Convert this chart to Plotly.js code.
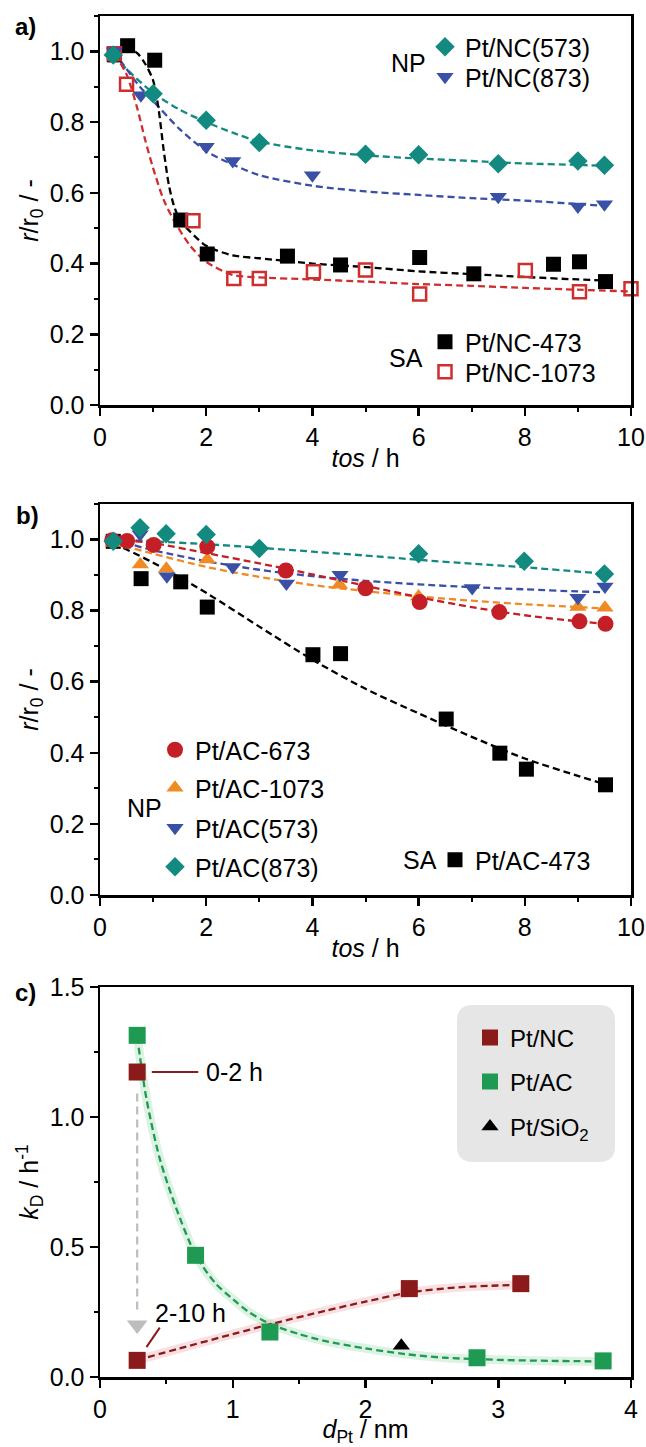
<!DOCTYPE html>
<html><head><meta charset="utf-8">
<script src="https://cdn.plot.ly/plotly-3.0.1.min.js"></script>
<style>body{margin:0;background:#fff}#chart{width:646px;height:1447px}</style>
</head><body><div id="chart"></div>
<script>
// ---------- Panel a data (tos / h, r/r0) ----------
const a_tos_NC573 = [0.25,1,2,3,5,6,7.5,9,9.5];
const a_r_NC573   = [0.99,0.88,0.805,0.742,0.709,0.708,0.682,0.69,0.678];
const a_tos_NC873 = [0.27,0.77,2,2.5,4,7.5,9,9.5];
const a_r_NC873   = [1.0,0.876,0.73,0.69,0.65,0.589,0.561,0.568];
const a_tos_NC473 = [0.27,0.52,1.03,1.52,2.02,3.53,4.53,6.02,7.04,8.54,9.03,9.52];
const a_r_NC473   = [0.99,1.016,0.975,0.523,0.427,0.421,0.396,0.417,0.371,0.398,0.405,0.349];
const a_tos_NC1073= [0.27,0.5,1.75,2.52,3.0,4.02,5.0,6.02,8.01,9.03,10.0];
const a_r_NC1073  = [0.993,0.907,0.521,0.358,0.358,0.377,0.382,0.314,0.38,0.32,0.329];
// fitted curves
const a_fit_NC573_x = [0.25,0.5,1,1.5,2,2.5,3,4,5,6,7,8,9,9.5];
const a_fit_NC573_y = [0.99,0.95,0.883,0.835,0.8,0.77,0.745,0.72,0.706,0.697,0.69,0.683,0.679,0.676];
const a_fit_NC873_x = [0.25,0.5,0.75,1,1.5,2,2.5,3,4,5,6,7,8,9,9.5];
const a_fit_NC873_y = [1.0,0.95,0.9,0.86,0.78,0.718,0.68,0.65,0.62,0.604,0.594,0.585,0.578,0.568,0.563];
const a_fit_NC473_x = [0.27,0.5,0.7,0.85,1.0,1.1,1.2,1.3,1.4,1.52,1.7,2.0,2.5,3,4,5,6,7,8,9,9.5];
const a_fit_NC473_y = [1.0,1.01,0.995,0.965,0.918,0.84,0.72,0.62,0.56,0.52,0.49,0.45,0.423,0.415,0.4,0.39,0.378,0.37,0.362,0.355,0.352];
const a_fit_NC1073_x = [0.27,0.5,0.7,0.85,1.0,1.2,1.4,1.7,2.0,2.5,3,4,5,6,7,8,9,10];
const a_fit_NC1073_y = [0.993,0.935,0.84,0.75,0.67,0.58,0.52,0.45,0.405,0.368,0.361,0.355,0.349,0.342,0.337,0.331,0.326,0.321];

// ---------- Panel b data ----------
const b_tos_AC673  = [0.23,0.51,1.01,2.02,3.5,5.0,6.02,7.52,9.03,9.52];
const b_r_AC673    = [0.998,0.996,0.985,0.98,0.913,0.863,0.824,0.796,0.77,0.763];
const b_tos_AC1073 = [0.25,0.76,1.25,2.02,4.51,6.0,9.0,9.51];
const b_r_AC1073   = [0.99,0.93,0.918,0.944,0.873,0.84,0.81,0.808];
const b_tos_AC573  = [0.25,0.755,1.26,2.5,3.51,4.52,7.01,9.0,9.51];
const b_r_AC573    = [1.0,1.015,0.897,0.923,0.876,0.901,0.864,0.836,0.868];
const b_tos_AC873  = [0.25,0.755,1.245,2.0,3.0,6.0,7.99,9.5];
const b_r_AC873    = [0.995,1.033,1.016,1.014,0.975,0.96,0.939,0.903];
const b_tos_AC473  = [0.25,0.774,1.52,2.02,4.01,4.53,6.52,7.53,8.03,9.52];
const b_r_AC473    = [0.995,0.89,0.881,0.81,0.676,0.679,0.495,0.399,0.354,0.31];
const b_fit_x      = [0.25,1,2,3,4,5,6,7,8,9,9.5];
const b_fit_AC873  = [1.0,0.995,0.987,0.977,0.966,0.955,0.943,0.932,0.922,0.91,0.904];
const b_fit_AC573  = [1.0,0.97,0.939,0.915,0.897,0.884,0.874,0.866,0.86,0.854,0.852];
const b_fit_AC1073 = [0.99,0.96,0.923,0.895,0.872,0.855,0.84,0.828,0.818,0.81,0.806];
const b_fit_AC673  = [1.0,0.99,0.962,0.933,0.902,0.87,0.838,0.81,0.787,0.77,0.763];
const b_fit_AC473  = [0.99,0.935,0.85,0.755,0.662,0.58,0.511,0.445,0.384,0.335,0.312];

// ---------- Panel c data (d_Pt / nm, k_D / h^-1) ----------
const c_d_NC  = [0.28,0.28,2.33,3.17];
const c_k_NC  = [1.173,0.064,0.34,0.359];
const c_d_AC  = [0.28,0.72,1.28,2.84,3.79];
const c_k_AC  = [1.314,0.468,0.173,0.074,0.062];
const c_d_SiO2 = [2.27];
const c_k_SiO2 = [0.12];
const c_fit_AC_x = [0.28,0.35,0.45,0.57,0.72,0.87,1.0,1.12,1.3,1.5,1.7,2.0,2.3,2.6,3.0,3.4,3.79];
const c_fit_AC_y = [1.31,1.07,0.84,0.655,0.47,0.36,0.3,0.25,0.2,0.165,0.138,0.11,0.088,0.074,0.066,0.062,0.06];
const c_fit_NC_x = [0.28,0.6,1.0,1.3,1.7,2.0,2.33,2.7,3.0,3.17];
const c_fit_NC_y = [0.065,0.11,0.165,0.205,0.255,0.29,0.325,0.345,0.352,0.355];
// grey arrow (0-2 h -> 2-10 h)
const c_arrow_x = [0.28,0.28];
const c_arrow_y = [1.09,0.24];
const c_arrowhead_y = [0.2];

const FONT = 'Liberation Sans, Arial, sans-serif';
const W = 646, H = 1447;
const TEAL = '#138a80', BLUE = '#3a4fa6', RED = '#cf2e2e', ORANGE = '#f08a24', BRED = '#c41f27';
const DRED = '#8b1a1a', GREEN = '#1e9a52';
const dash = '7px,4px';

function fit(x, y, color, xa, ya, w) {
  return {x, y, xaxis: xa, yaxis: ya, mode: 'lines', type: 'scatter', showlegend: false,
          hoverinfo: 'skip', line: {color, width: w || 2.3, dash, shape: 'spline', smoothing: 0.8}};
}
function pts(x, y, name, sym, color, size, xa, ya, leg, opts) {
  const m = {symbol: sym, color, size, line: {width: 0}};
  if (opts && opts.open) { m.color = 'rgba(0,0,0,0)'; m.line = {color, width: 2.5}; }
  return {x, y, name, xaxis: xa, yaxis: ya, mode: 'markers', type: 'scatter', legend: leg,
          marker: m, cliponaxis: false, showlegend: true};
}

const traces = [
  fit(a_fit_NC573_x, a_fit_NC573_y, TEAL, 'x', 'y'),
  fit(a_fit_NC873_x, a_fit_NC873_y, BLUE, 'x', 'y'),
  fit(a_fit_NC473_x, a_fit_NC473_y, '#000', 'x', 'y'),
  fit(a_fit_NC1073_x, a_fit_NC1073_y, RED, 'x', 'y'),
  pts(a_tos_NC473, a_r_NC473, 'Pt/NC-473', 'square', '#000', 15, 'x', 'y', 'legend3'),
  pts(a_tos_NC1073, a_r_NC1073, 'Pt/NC-1073', 'square', RED, 13, 'x', 'y', 'legend4', {open: true}),
  pts(a_tos_NC873, a_r_NC873, 'Pt/NC(873)', 'triangle-down', BLUE, 15, 'x', 'y', 'legend2'),
  pts(a_tos_NC573, a_r_NC573, 'Pt/NC(573)', 'diamond', TEAL, 15, 'x', 'y', 'legend'),
  fit(b_fit_x, b_fit_AC873, TEAL, 'x2', 'y2'),
  fit(b_fit_x, b_fit_AC573, BLUE, 'x2', 'y2'),
  fit(b_fit_x, b_fit_AC1073, ORANGE, 'x2', 'y2'),
  fit(b_fit_x, b_fit_AC673, BRED, 'x2', 'y2'),
  fit(b_fit_x, b_fit_AC473, '#000', 'x2', 'y2'),
  pts(b_tos_AC473, b_r_AC473, 'Pt/AC-473', 'square', '#000', 15, 'x2', 'y2', 'legend9'),
  pts(b_tos_AC1073, b_r_AC1073, 'Pt/AC-1073', 'triangle-up', ORANGE, 15, 'x2', 'y2', 'legend6'),
  pts(b_tos_AC573, b_r_AC573, 'Pt/AC(573)', 'triangle-down', BLUE, 15, 'x2', 'y2', 'legend7'),
  pts(b_tos_AC673, b_r_AC673, 'Pt/AC-673', 'circle', BRED, 16, 'x2', 'y2', 'legend5'),
  pts(b_tos_AC873, b_r_AC873, 'Pt/AC(873)', 'diamond', TEAL, 15, 'x2', 'y2', 'legend8'),
  {x: c_fit_AC_x, y: c_fit_AC_y, xaxis: 'x3', yaxis: 'y3', mode: 'lines', showlegend: false, hoverinfo: 'skip',
   line: {color: 'rgba(60,190,100,0.18)', width: 9, shape: 'spline', smoothing: 0.8}},
  {x: c_fit_NC_x, y: c_fit_NC_y, xaxis: 'x3', yaxis: 'y3', mode: 'lines', showlegend: false, hoverinfo: 'skip',
   line: {color: 'rgba(220,90,100,0.18)', width: 9, shape: 'spline', smoothing: 0.8}},
  {x: c_arrow_x, y: c_arrow_y, xaxis: 'x3', yaxis: 'y3', mode: 'lines', showlegend: false, hoverinfo: 'skip',
   line: {color: '#bdbdbd', width: 2.2, dash: '8px,5px'}},
  {x: [c_arrow_x[0]], y: c_arrowhead_y, xaxis: 'x3', yaxis: 'y3', mode: 'markers', showlegend: false, hoverinfo: 'skip',
   marker: {symbol: 'triangle-down', color: '#bdbdbd', size: 18}},
  fit(c_fit_AC_x, c_fit_AC_y, GREEN, 'x3', 'y3'),
  fit(c_fit_NC_x, c_fit_NC_y, DRED, 'x3', 'y3'),
  pts(c_d_NC, c_k_NC, 'Pt/NC', 'square', DRED, 17, 'x3', 'y3', 'legend10'),
  pts(c_d_AC, c_k_AC, 'Pt/AC', 'square', GREEN, 17, 'x3', 'y3', 'legend11'),
  pts(c_d_SiO2, c_k_SiO2, 'Pt/SiO<sub>2</sub>', 'triangle-up', '#000', 15, 'x3', 'y3', 'legend12')
];

const L = 100, R = 15;
function dom(topPx, botPx) { return [1 - botPx / H, 1 - topPx / H]; }
function px(xp) { return (xp - L) / (W - L - R); }
function py(yp) { return 1 - yp / H; }
const tickFont = {family: FONT, size: 25, color: '#000'};
function xax(range, dtick, minor, anchor, title, so) {
  return {range, dtick, tick0: 0, anchor, showgrid: false, zeroline: false, showline: true, mirror: true,
          linecolor: '#000', linewidth: 2.5, ticks: 'outside', ticklen: 8, tickwidth: 2.5, tickcolor: '#000',
          minor: {dtick: minor, ticks: 'outside', ticklen: 4, tickwidth: 2, tickcolor: '#000'},
          tickfont: tickFont, title: {text: title, font: tickFont, standoff: so || 0}, fixedrange: true, automargin: false};
}
function yax(range, dtick, minor, anchor, dm, title, fmt) {
  return {range, dtick, tick0: 0, anchor, domain: dm, showgrid: false, zeroline: false, showline: true, mirror: true,
          linecolor: '#000', linewidth: 2.5, ticks: 'outside', ticklen: 8, tickwidth: 2.5, tickcolor: '#000',
          minor: {dtick: minor, ticks: 'outside', ticklen: 4, tickwidth: 2, tickcolor: '#000'},
          tickformat: fmt, tickfont: tickFont, title: {text: title, font: tickFont, standoff: 4}, fixedrange: true, automargin: false};
}
function leg(mx, my, size) {
  return {x: px(mx - 20), y: py(my), xref: 'paper', yref: 'paper', xanchor: 'left', yanchor: 'middle',
          bgcolor: 'rgba(0,0,0,0)', borderwidth: 0, font: {family: FONT, size: size || 25, color: '#000'},
          itemclick: false, itemdoubleclick: false};
}
function ann(text, xp, yp, size, bold) {
  return {text: bold ? '<b>' + text + '</b>' : text, x: px(xp), y: py(yp), xref: 'paper', yref: 'paper',
          showarrow: false, font: {family: FONT, size: size || 25, color: '#000'}, xanchor: 'center', yanchor: 'middle'};
}
const bx0 = px(457), bx1 = px(615), by0 = py(1005), by1 = py(1162), rx = 16 / (W - L - R), ry = 16 / H;
const boxPath = `M ${bx0 + rx} ${by0} L ${bx1 - rx} ${by0} Q ${bx1} ${by0} ${bx1} ${by0 - ry} L ${bx1} ${by1 + ry} ` +
  `Q ${bx1} ${by1} ${bx1 - rx} ${by1} L ${bx0 + rx} ${by1} Q ${bx0} ${by1} ${bx0} ${by1 + ry} L ${bx0} ${by0 - ry} ` +
  `Q ${bx0} ${by0} ${bx0 + rx} ${by0} Z`;

const layout = {
  width: W, height: H, margin: {l: L, r: R, t: 0, b: 0, autoexpand: false}, paper_bgcolor: '#fff', plot_bgcolor: 'rgba(0,0,0,0)',
  font: {family: FONT, color: '#000'}, hovermode: false,
  xaxis: xax([0, 10], 2, 1, 'y', '<i>tos</i> / h'),
  yaxis: yax([0, 1.1], 0.2, 0.1, 'x', dom(16, 405), '<i>r</i>/r<sub>0</sub> / -', '.1f'),
  xaxis2: xax([0, 10], 2, 1, 'y2', '<i>tos</i> / h'),
  yaxis2: yax([0, 1.1], 0.2, 0.1, 'x2', dom(504, 895), '<i>r</i>/r<sub>0</sub> / -', '.1f'),
  xaxis3: xax([0, 4], 1, 0.5, 'y3', '<i>d</i><sub>Pt</sub> / nm', 3),
  yaxis3: yax([0, 1.5], 0.5, 0.25, 'x3', dom(987, 1377), '<i>k</i><sub>D</sub> / h<sup>-1</sup>', '.1f'),
  legend: leg(445, 47), legend2: leg(445, 77), legend3: leg(445, 342), legend4: leg(445, 372),
  legend5: leg(175, 750), legend6: leg(175, 788), legend7: leg(175, 828), legend8: leg(175, 867), legend9: leg(455, 860),
  legend10: leg(490, 1038, 24), legend11: leg(490, 1082, 24), legend12: leg(490, 1127, 24),
  shapes: [
    {type: 'path', path: boxPath, xref: 'paper', yref: 'paper', fillcolor: '#e6e6e6', line: {width: 0}, layer: 'below'},
    {type: 'line', xref: 'x3', yref: 'y3', x0: 0.39, x1: 0.74, y0: 1.173, y1: 1.173, line: {color: DRED, width: 2}},
    {type: 'line', xref: 'x3', yref: 'y3', x0: 0.35, x1: 0.45, y0: 0.115, y1: 0.19, line: {color: DRED, width: 2}}
  ],
  annotations: [
    ann('a)', 25, 26, 24, true), ann('b)', 27, 515, 24, true), ann('c)', 25, 993, 24, true),
    ann('NP', 408, 63), ann('SA', 406, 358), ann('NP', 144, 808), ann('SA', 420, 860),
    {text: '0-2 h', x: 0.78, y: 1.173, xref: 'x3', yref: 'y3', xanchor: 'left', yanchor: 'middle', showarrow: false,
     font: {family: FONT, size: 25, color: '#000'}},
    {text: '2-10 h', x: 0.4, y: 0.245, xref: 'x3', yref: 'y3', xanchor: 'left', yanchor: 'middle', showarrow: false,
     font: {family: FONT, size: 25, color: '#000'}}
  ]
};
Plotly.newPlot('chart', traces, layout, {staticPlot: true, displayModeBar: false});
</script></body></html>
